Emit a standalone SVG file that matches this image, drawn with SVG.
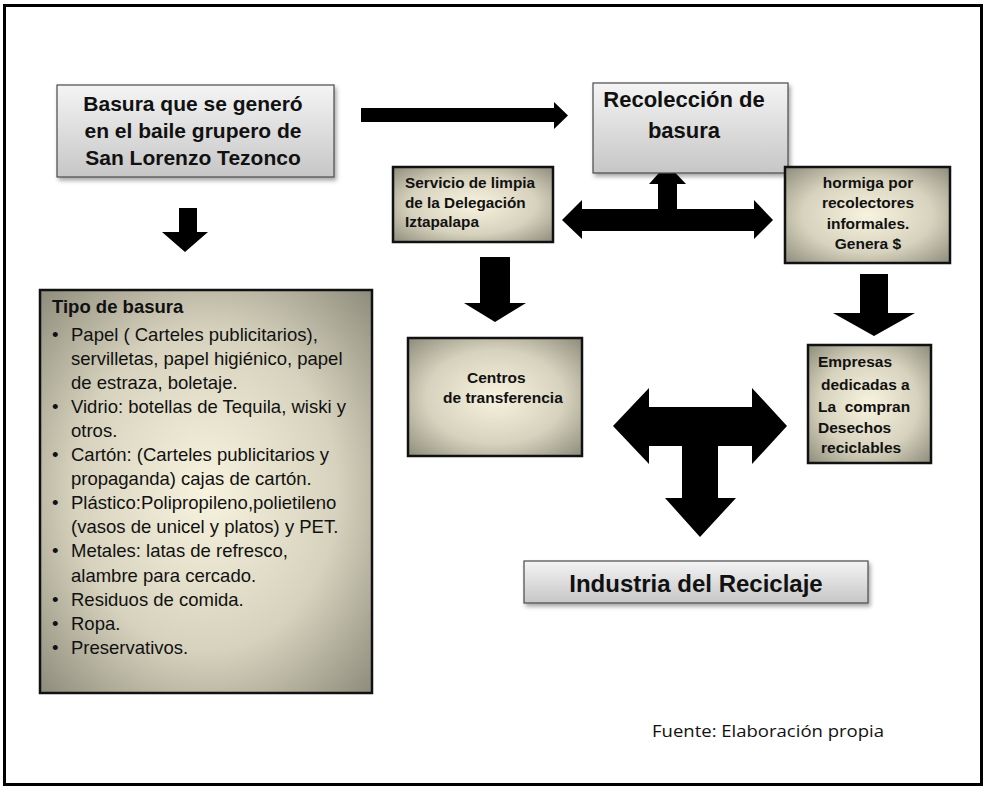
<svg xmlns="http://www.w3.org/2000/svg" width="984" height="788" viewBox="0 0 984 788">
<defs>
<linearGradient id="gray" x1="0" y1="0" x2="0" y2="1">
<stop offset="0" stop-color="#f4f4f4"/>
<stop offset="1" stop-color="#c6c6c6"/>
</linearGradient>
<radialGradient id="tan" cx="0.5" cy="0.5" r="0.72">
<stop offset="0" stop-color="#f8f3de"/>
<stop offset="0.55" stop-color="#d6d2bd"/>
<stop offset="1" stop-color="#8a8878"/>
</radialGradient>
<filter id="sh" x="-10%" y="-10%" width="130%" height="140%">
<feDropShadow dx="2" dy="3" stdDeviation="2" flood-color="#000" flood-opacity="0.35"/>
</filter>
</defs>
<style>
.g{fill:url(#gray);stroke:#4a4a4a;stroke-width:1.2;filter:url(#sh)}
.t{fill:url(#tan);stroke:#111;stroke-width:2.5}
text{font-family:"Liberation Sans",Arial,sans-serif;fill:#111}
text.f{font-family:"Open Sans","Liberation Sans",sans-serif}
.b{font-weight:bold}
.c{text-anchor:middle}
.arrow{fill:#000}
</style>
<rect x="4.5" y="5.5" width="977" height="779" fill="#fff" stroke="#000" stroke-width="3"/>

<g id="connectors">
<path class="arrow" d="M361,108 H554 V102 L568,115.5 L554,129 V122 H361 Z"/>
<path class="arrow" d="M179,208 H197 V232 H208 L185,252 L162,232 H179 Z"/>
<path class="arrow" d="M480,257 H510 V303 H526 L495,322 L464,303 H480 Z"/>
<path class="arrow" d="M860,274 H888 V313 H915 L874,336 L833,313 H860 Z"/>
<path class="arrow" d="M562,220 L582,200 V209 H658 V184 H649 L667,164 L686,184 H677 V209 H754 V200 L773,220 L754,239 V231 H582 V239 Z"/>
<path class="arrow" d="M613,426 L649,388 V407 H752 V388 L787,426 L752,464 V446 H718 V498 H736 L700,537 L665,498 H682 V446 H649 V464 Z"/>
</g>

<g id="basura">
<rect class="g" x="57" y="85" width="277" height="92"/>
<text class="b c" x="193" y="111" font-size="21">Basura que se generó</text>
<text class="b c" x="193" y="138" font-size="21">en el baile grupero de</text>
<text class="b c" x="193" y="165" font-size="21">San Lorenzo Tezonco</text>
</g>

<g id="recoleccion">
<rect class="g" x="593" y="83" width="195" height="90"/>
<text class="b c" x="684" y="107" font-size="22">Recolección de</text>
<text class="b c" x="684" y="138" font-size="22">basura</text>
</g>

<g id="servicio">
<rect class="t" x="393" y="167" width="160" height="75"/>
<text class="b" x="405" y="188" font-size="15.3">Servicio de limpia</text>
<text class="b" x="405" y="208" font-size="15.3">de la Delegación</text>
<text class="b" x="405" y="227" font-size="15.3">Iztapalapa</text>
</g>

<g id="hormiga">
<rect class="t" x="785" y="167" width="165" height="96"/>
<text class="b c" x="868" y="188" font-size="15.5">hormiga por</text>
<text class="b c" x="868" y="208" font-size="15.5">recolectores</text>
<text class="b c" x="868" y="229" font-size="15.5">informales.</text>
<text class="b c" x="868" y="249" font-size="15.5">Genera $</text>
</g>

<g id="centros">
<rect class="t" x="408" y="338" width="174" height="118"/>
<text class="b" x="467" y="383" font-size="15.5">Centros</text>
<text class="b" x="443" y="403" font-size="15.5">de transferencia</text>
</g>

<g id="empresas">
<rect class="t" x="808" y="345" width="123" height="118"/>
<text class="b" x="818" y="367" font-size="15.5">Empresas</text>
<text class="b" x="821" y="390" font-size="15.5">dedicadas a</text>
<text class="b" x="818" y="412" font-size="15.5" xml:space="preserve">La  compran</text>
<text class="b" x="818" y="433" font-size="15.5">Desechos</text>
<text class="b" x="821" y="453" font-size="15.5">reciclables</text>
</g>

<g id="industria">
<rect class="g" x="524" y="561" width="344" height="42"/>
<text class="b c" x="696" y="592" font-size="24">Industria del Reciclaje</text>
</g>

<g id="tipo">
<rect class="t" x="40" y="290" width="332" height="403"/>
<text class="b" x="52" y="313" font-size="18.5">Tipo de basura</text>
<g font-size="18.5">
<text x="52" y="340.5">•</text><text x="71" y="340.5">Papel ( Carteles publicitarios),</text>
<text x="71" y="364.6">servilletas, papel higiénico, papel</text>
<text x="71" y="388.7">de estraza, boletaje.</text>
<text x="52" y="412.8">•</text><text x="71" y="412.8">Vidrio: botellas de Tequila, wiski y</text>
<text x="71" y="436.9">otros.</text>
<text x="52" y="461">•</text><text x="71" y="461">Cartón: (Carteles publicitarios y</text>
<text x="71" y="485.1">propaganda) cajas de cartón.</text>
<text x="52" y="509.2">•</text><text x="71" y="509.2">Plástico:Polipropileno,polietileno</text>
<text x="71" y="533.3">(vasos de unicel y platos) y PET.</text>
<text x="52" y="557.4">•</text><text x="71" y="557.4">Metales: latas de refresco,</text>
<text x="71" y="581.5">alambre para cercado.</text>
<text x="52" y="605.6">•</text><text x="71" y="605.6">Residuos de comida.</text>
<text x="52" y="629.7">•</text><text x="71" y="629.7">Ropa.</text>
<text x="52" y="653.8">•</text><text x="71" y="653.8">Preservativos.</text>
</g>
</g>

<g id="fuente">
<text class="f" x="652" y="737" font-size="17" textLength="232" lengthAdjust="spacingAndGlyphs">Fuente: Elaboración propia</text>
</g>
</svg>
